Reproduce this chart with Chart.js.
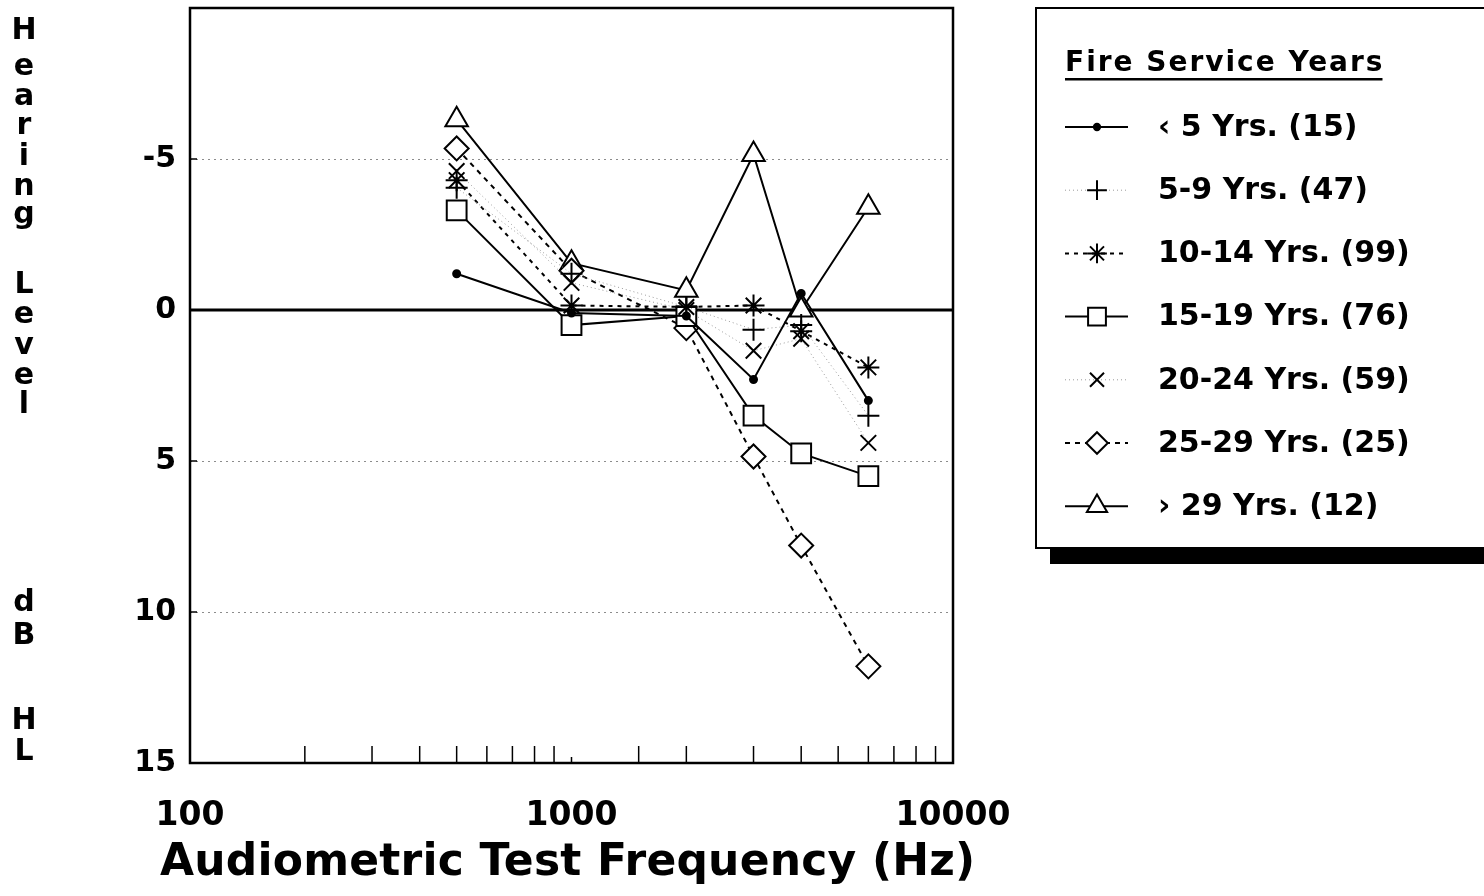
<!DOCTYPE html>
<html>
<head>
<meta charset="utf-8">
<script src="https://cdn.jsdelivr.net/npm/chart.js@4/dist/chart.umd.min.js"></script>
<style>
  html, body { margin: 0; padding: 0; background: #fff; }
  #wrap { width: 1484px; height: 896px; }
</style>
</head>
<body>
<div id="wrap"><canvas id="chart" width="1484" height="896"></canvas></div>
<script>
// audiometric frequencies (Hz)
const freqs = [500, 1000, 2000, 3000, 4000, 6000];

// mean hearing level (dB HL) per fire service group
const lt5Yrs = [-1.2, 0.1, 0.2, 2.3, -0.55, 3.0];
const yrs5to9 = [-4.05, -1.2, -0.1, 0.65, 0.5, 3.5];
const yrs10to14 = [-4.3, -0.15, -0.1, -0.15, 0.7, 1.9];
const yrs15to19 = [-3.3, 0.5, 0.2, 3.5, 4.75, 5.5];
const yrs20to24 = [-4.6, -0.9, 0.0, 1.35, 0.95, 4.4];
const yrs25to29 = [-5.35, -1.3, 0.6, 4.85, 7.8, 11.8];
const gt29Yrs = [-6.3, -1.55, -0.65, -5.15, 0.0, -3.4];

const seriesLabels = [
    '\u2039 5 Yrs. (15)',
    '5-9 Yrs. (47)',
    '10-14 Yrs. (99)',
    '15-19 Yrs. (76)',
    '20-24 Yrs. (59)',
    '25-29 Yrs. (25)',
    '\u203A 29 Yrs. (12)'
];

const yTickValues = [-5, 0, 5, 10, 15];
const xTickLabels = [100, 1000, 10000];
const legendTitle = 'Fire Service Years';
const yTitle = 'Hearing Level dB HL';
const xTitle = 'Audiometric Test Frequency (Hz)';

const FONT = "'DejaVu Sans', 'Liberation Sans', sans-serif";

function toPoints(vals) {
    return freqs.map((f, i) => ({ x: f, y: vals[i] }));
}

const styles = [
    { style: 'circle', radius: 3.5, dash: [], width: 2, color: '#000', fill: '#000' },
    { style: 'cross', radius: 11, dash: [1, 3], width: 1, color: '#9a9a9a', fill: '#fff' },
    { style: 'star', radius: 11, dash: [4, 5], width: 2, color: '#000', fill: '#fff' },
    { style: 'rect', radius: 14, dash: [], width: 2, color: '#000', fill: '#fff' },
    { style: 'crossRot', radius: 11, dash: [1, 3], width: 1, color: '#9a9a9a', fill: '#fff' },
    { style: 'rectRot', radius: 12, dash: [5, 5], width: 2, color: '#000', fill: '#fff' },
    { style: 'triangle', radius: 13, dash: [], width: 2, color: '#000', fill: '#fff' }
];

const seriesValues = [lt5Yrs, yrs5to9, yrs10to14, yrs15to19, yrs20to24, yrs25to29, gt29Yrs];

const datasets = seriesValues.map((vals, i) => {
    const s = styles[i];
    return {
        label: seriesLabels[i],
        data: toPoints(vals),
        borderColor: s.color,
        borderWidth: s.width,
        borderDash: s.dash,
        pointStyle: s.style,
        pointRadius: s.radius,
        pointBorderColor: '#000',
        pointBackgroundColor: s.fill,
        pointBorderWidth: 2,
        tension: 0
    };
});

// frame, zero line, inward ticks, titles, boxed legend
const decorPlugin = {
    id: 'decor',
    beforeDatasetsDraw(chart) {
        const { ctx, chartArea: a, scales } = chart;
        const y0 = scales.y.getPixelForValue(0);
        ctx.save();
        ctx.strokeStyle = '#000';
        ctx.lineWidth = 3;
        ctx.beginPath();
        ctx.moveTo(a.left, y0);
        ctx.lineTo(a.right, y0);
        ctx.stroke();
        ctx.restore();
    },
    afterDraw(chart) {
        const { ctx, chartArea: a, scales } = chart;
        ctx.save();
        ctx.strokeStyle = '#000';
        ctx.lineWidth = 2.5;
        ctx.strokeRect(a.left, a.top, a.right - a.left, a.bottom - a.top);

        // minor ticks along the bottom, pointing in
        ctx.lineWidth = 1.5;
        scales.x.ticks.forEach(t => {
            if (t.value <= 100 || t.value >= 10000) return;
            const x = scales.x.getPixelForValue(t.value);
            const len = t.value === 1000 ? 6 : 17;
            ctx.beginPath();
            ctx.moveTo(x, a.bottom);
            ctx.lineTo(x, a.bottom - len);
            ctx.stroke();
        });
        yTickValues.forEach(v => {
            const y = scales.y.getPixelForValue(v);
            ctx.beginPath();
            ctx.moveTo(a.left, y);
            ctx.lineTo(a.left + 7, y);
            ctx.stroke();
        });

        // x title, spread to the width it has in the original
        ctx.fillStyle = '#000';
        ctx.font = 'bold 44px ' + FONT;
        ctx.textAlign = 'left';
        ctx.textBaseline = 'middle';
        const w = ctx.measureText(xTitle).width;
        const gap = Math.max(0, (815 - w) / (xTitle.length - 1));
        ctx.letterSpacing = gap.toFixed(2) + 'px';
        ctx.fillText(xTitle, 160, 864);
        ctx.letterSpacing = '0px';

        // vertical, letter-stacked y title
        ctx.font = 'bold 30px ' + FONT;
        ctx.textAlign = 'center';
        const letterY = [31, 67, 97, 126, 157, 187, 215, 0, 285, 315, 346, 376, 405, 0, 603, 636, 0, 721, 752];
        let k = 0;
        for (const ch of yTitle) {
            if (ch !== ' ') ctx.fillText(ch, 24, letterY[k]);
            k++;
        }

        // legend box with drop shadow
        const bx = 1036, by = 8, bw = 460, bh = 540;
        ctx.fillRect(bx + 14, by + bh + 1, 1484 - bx - 14, 15);
        ctx.lineWidth = 2;
        ctx.strokeRect(bx, by, bw, bh);

        ctx.textAlign = 'left';
        ctx.font = 'bold 28px ' + FONT;
        ctx.letterSpacing = '2px';
        ctx.fillText(legendTitle, 1065, 64);
        const tw = ctx.measureText(legendTitle).width;
        ctx.fillRect(1065, 78, tw - 2, 2.5);
        ctx.letterSpacing = '0px';

        ctx.font = 'bold 30px ' + FONT;
        chart.data.datasets.forEach((ds, i) => {
            const y = 127 + i * 63.2;
            const s = styles[i];
            ctx.save();
            ctx.strokeStyle = s.color;
            ctx.lineWidth = s.width;
            ctx.setLineDash(s.dash);
            ctx.beginPath();
            ctx.moveTo(1065, y);
            ctx.lineTo(1128, y);
            ctx.stroke();
            ctx.restore();
            ctx.save();
            ctx.strokeStyle = '#000';
            ctx.fillStyle = s.fill;
            ctx.lineWidth = 2;
            Chart.helpers.drawPoint(ctx, { pointStyle: s.style, radius: s.radius * 0.9, rotation: 0, borderWidth: 2 }, 1097, y);
            ctx.restore();
            ctx.fillStyle = '#000';
            ctx.fillText(ds.label, 1158, y + 1);
        });
        ctx.restore();
    }
};

new Chart(document.getElementById('chart'), {
    type: 'line',
    data: { datasets },
    options: {
        responsive: false,
        animation: false,
        layout: { autoPadding: false, padding: { top: 8, left: 0, right: 531, bottom: 0 } },
        plugins: {
            legend: { display: false },
            tooltip: { enabled: false }
        },
        scales: {
            x: {
                type: 'logarithmic',
                min: 100,
                max: 10000,
                afterFit: scale => { scale.height = 133; },
                grid: { display: false, drawTicks: false },
                border: { display: false },
                ticks: {
                    autoSkip: false,
                    maxRotation: 0,
                    padding: 34,
                    color: '#000',
                    font: { family: FONT, size: 33, weight: 'bold' },
                    callback: v => xTickLabels.includes(v) ? String(v) : ''
                }
            },
            y: {
                reverse: true,
                min: -10,
                max: 15,
                afterFit: scale => {
                    scale.width = 190;
                    scale.paddingTop = 0;
                    scale.paddingBottom = 0;
                },
                grid: {
                    drawTicks: false,
                    lineWidth: 1,
                    color: ctx => (ctx.tick && (ctx.tick.value === 0 || ctx.tick.value === -10 || ctx.tick.value === 15)) ? 'rgba(0,0,0,0)' : '#8c8c8c'
                },
                border: { display: false, dash: [2, 4] },
                ticks: {
                    stepSize: 5,
                    padding: 14,
                    color: '#000',
                    font: { family: FONT, size: 30, weight: 'bold' },
                    callback: v => yTickValues.includes(v) ? String(v) : ''
                }
            }
        }
    },
    plugins: [decorPlugin]
});
</script>
</body>
</html>
